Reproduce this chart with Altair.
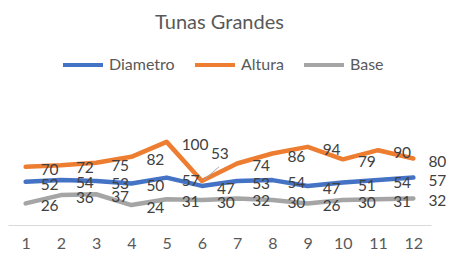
import altair as alt
import pandas as pd

months = list(range(1, 13))
diametro = [52, 54, 53, 50, 57, 47, 53, 54, 47, 51, 54, 57]
altura = [70, 72, 75, 82, 100, 53, 74, 86, 94, 79, 90, 80]
base = [26, 36, 37, 24, 31, 30, 32, 30, 26, 30, 31, 32]
series_names = ["Diametro", "Altura", "Base"]
series_colors = ["#4472C4", "#ED7D31", "#A5A5A5"]

rows = []
for name, vals in zip(series_names, [diametro, altura, base]):
    for m, v in zip(months, vals):
        rows.append({"serie": name, "mes": m, "valor": v,
                     "moved": name == "Altura" and m == 6})
df = pd.DataFrame(rows)

FONT = "Lato"
xenc = alt.X("mes:Q", scale=alt.Scale(domain=[0.5, 12.5], nice=False, zero=False),
             axis=alt.Axis(values=months, title=None, grid=False, ticks=False,
                           domainColor="#d9d9d9", domainWidth=1,
                           labelFontSize=16, labelColor="#595959", labelFont=FONT,
                           labelPadding=10, labelBaseline="top"))
yenc = alt.Y("valor:Q", scale=alt.Scale(domain=[0, 160], nice=False), axis=None)
color = alt.Color("serie:N",
                  scale=alt.Scale(domain=series_names, range=series_colors),
                  legend=alt.Legend(orient="none", legendX=53, legendY=-49,
                                    direction="horizontal", title=None,
                                    symbolType="stroke", symbolSize=1600,
                                    symbolStrokeWidth=4, labelOffset=4,
                                    columnPadding=12, labelFontSize=16,
                                    labelColor="#595959", labelFont=FONT))

base_chart = alt.Chart(df)

lines = base_chart.mark_line(strokeWidth=4.5, strokeJoin="round", strokeCap="round").encode(
    x=xenc, y=yenc, color=color, order="mes:Q")

labels = base_chart.transform_filter("!datum.moved").mark_text(
    align="left", baseline="middle", dx=15, dy=3, fontSize=15.5, font=FONT,
    color="#404040").encode(x=xenc, y=yenc, text="valor:Q")

moved = base_chart.transform_filter("datum.moved").mark_text(
    align="left", baseline="middle", dx=9, dy=-27, fontSize=15.5, font=FONT,
    color="#404040").encode(x=xenc, y=yenc, text="valor:Q")

leader = base_chart.transform_filter("datum.moved").mark_rule(
    color="#a6a6a6", strokeWidth=1, xOffset=2, yOffset=-1, x2Offset=17, y2Offset=-14
).encode(x=xenc, y=yenc, x2="mes:Q", y2="valor:Q")

chart = alt.layer(lines, leader, labels, moved).properties(
    width=423, height=133,
    title=alt.TitleParams("Tunas Grandes", fontSize=20, font=FONT, color="#595959",
                          fontWeight="normal", anchor="middle", frame="group", offset=10),
    autosize=alt.AutoSizeParams(type="none"),
    padding={"left": 0, "top": 84, "right": 16, "bottom": 25},
).configure_view(stroke=None)

chart.save("out.html", embed_options={"renderer": "svg", "actions": False})
